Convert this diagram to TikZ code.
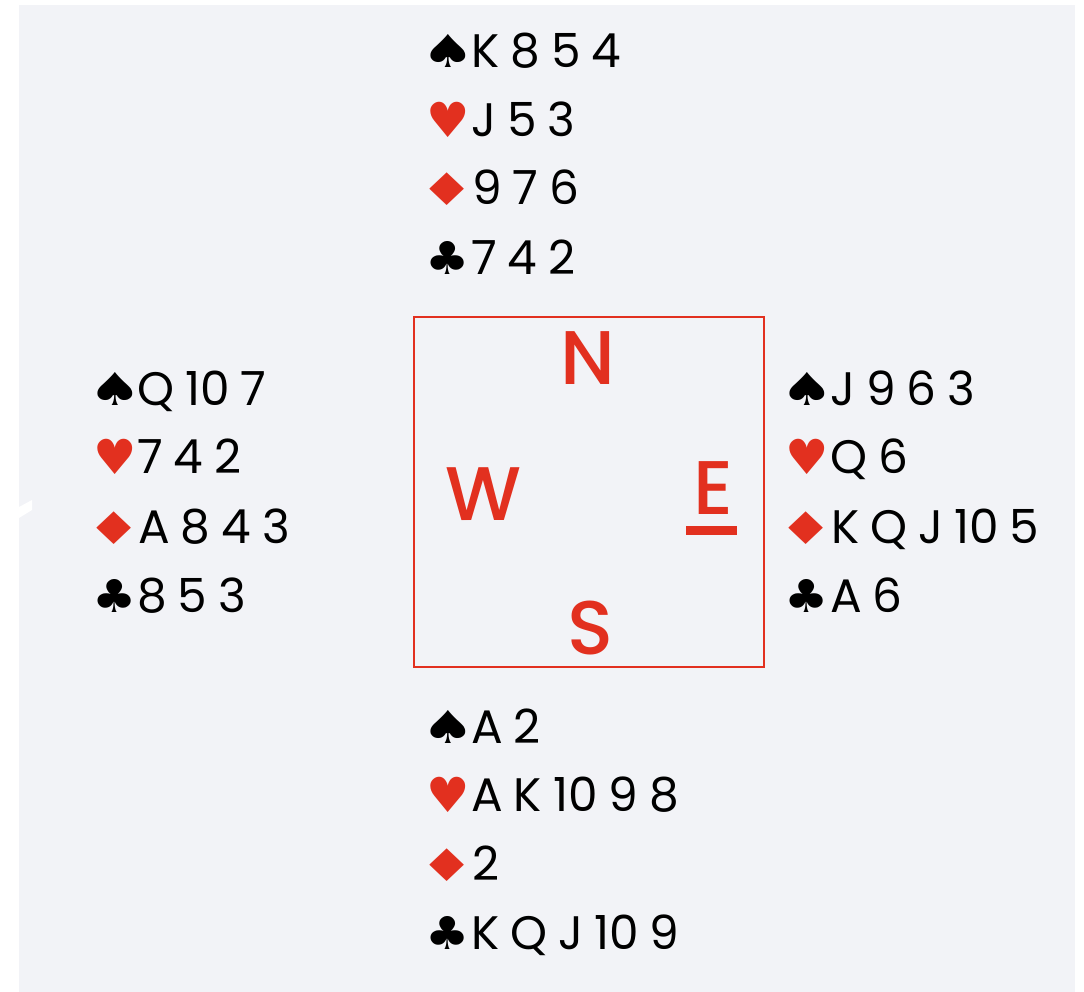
\documentclass[tikz,border=0pt]{standalone}
\usepackage{fontspec}
\setmainfont{Poppins}
\newfontfamily\cardf{Poppins}
\newfontfamily\dirf{Poppins Medium}
\newfontfamily\suitf{DejaVu Sans}
\definecolor{cred}{HTML}{E2301F}
\definecolor{bg}{HTML}{F2F3F7}
\newcommand\gp{\kern11pt}
\newcommand\sS{\makebox[34pt][c]{\scalebox{1.36}[1.03]{♠}}}
\newcommand\sH{\makebox[34pt][c]{\scalebox{1.1}[1.1]{♥}}}
\newcommand\sD{\makebox[34pt][c]{\scalebox{1.4}[1.02]{♦}}}
\newcommand\sC{\makebox[34pt][c]{\scalebox{1.12}[1.03]{♣}}}
\tikzset{
  hand/.style={anchor=base west, inner sep=0pt, font=\cardf\fontsize{47}{47}\selectfont, text=black},
  suit/.style={anchor=base, inner sep=0pt, font=\suitf\fontsize{44}{44}\selectfont, text=black},
  rsuit/.style={suit, text=cred},
  dir/.style={anchor=base, inner sep=0pt, font=\dirf\fontsize{76}{76}\selectfont, text=cred},
}
\begin{document}
\begin{tikzpicture}[x=1pt,y=-1pt]
\useasboundingbox (0,0) rectangle (1084,992);
\fill[white] (0,0) rectangle (1084,992);
\fill[bg] (19,5) rectangle (1075,992);
\fill[white] (19,507) -- (32,500) -- (32,510) -- (19,518) -- cycle;
\draw[cred, line width=2pt] (414,317) rectangle (764,667);
\node[dir] (N) at (588,384) {N};
\node[dir] (W) at (483,520) {W};
\node[dir] (E) at (713,514) {E};
\fill[cred] (686,526) rectangle (737,535);
\node[dir] (S) at (590,654) {S};
% North
\node[suit]  (n1s) at (448,68)  {\sS}; \node[hand] (n1) at (471,68)  {K\gp8\gp5\gp4};
\node[rsuit] (n2s) at (448,138) {\sH}; \node[hand] (n2) at (471,137) {J\gp5\gp3};
\node[rsuit] (n3s) at (447,206) {\sD}; \node[hand] (n3) at (472,205) {9\gp7\gp6};
\node[suit]  (n4s) at (448,275) {\sC}; \node[hand] (n4) at (471,275) {7\gp4\gp2};
% West
\node[suit]  (w1s) at (115,405) {\sS}; \node[hand] (w1) at (137,405) {Q\gp10\gp7};
\node[rsuit] (w2s) at (115,474) {\sH}; \node[hand] (w2) at (137,473) {7\gp4\gp2};
\node[rsuit] (w3s) at (114,544) {\sD}; \node[hand] (w3) at (138,543) {A\gp8\gp4\gp3};
\node[suit]  (w4s) at (115,612) {\sC}; \node[hand] (w4) at (137,612) {8\gp5\gp3};
% East
\node[suit]  (e1s) at (807,405) {\sS}; \node[hand] (e1) at (830,405) {J\gp9\gp6\gp3};
\node[rsuit] (e2s) at (807,474) {\sH}; \node[hand] (e2) at (830,473) {Q\gp6};
\node[rsuit] (e3s) at (806,544) {\sD}; \node[hand] (e3) at (831,543) {K\gp Q\gp J\gp10\gp5};
\node[suit]  (e4s) at (807,612) {\sC}; \node[hand] (e4) at (830,612) {A\gp6};
% South
\node[suit]  (s1s) at (448,743) {\sS}; \node[hand] (s1) at (471,743) {A\gp2};
\node[rsuit] (s2s) at (448,812) {\sH}; \node[hand] (s2) at (471,811) {A\gp K\gp10\gp9\gp8};
\node[rsuit] (s3s) at (447,881) {\sD}; \node[hand] (s3) at (472,880) {2};
\node[suit]  (s4s) at (448,949) {\sC}; \node[hand] (s4) at (471,949) {K\gp Q\gp J\gp10\gp9};
\end{tikzpicture}
\end{document}
